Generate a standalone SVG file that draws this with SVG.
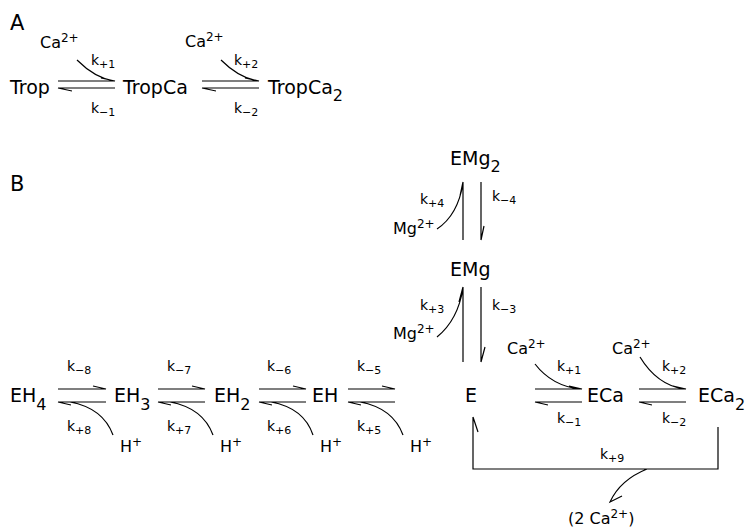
<svg xmlns="http://www.w3.org/2000/svg" width="747" height="529" viewBox="0 0 747 529">
<style>
text{font-family:"DejaVu Sans","Liberation Sans",sans-serif;fill:#000}
.m{font-size:19px}
.p{font-size:21px}
.k{font-size:14px}
.s{font-size:11px}
.c{font-size:16px}
.u{font-size:12px}
.sb{font-size:16px}
.ln{fill:none;stroke:#000;stroke-width:1.2}
</style>
<rect width="747" height="529" fill="#fff"/>
<text class="p" x="10" y="30">A</text>
<text class="p" x="10" y="191">B</text>
<g id="trop"><text class="m" x="10" y="94">Trop</text></g>
<g id="tropca"><text class="m" x="123" y="94">TropCa</text></g>
<g id="tropca2"><text class="m" x="268" y="94">TropCa<tspan class="sb" dy="7">2</tspan></text></g>
<g id="emg2"><text class="m" x="450" y="165">EMg<tspan class="sb" dy="7">2</tspan></text></g>
<g id="emg"><text class="m" x="450" y="276">EMg</text></g>
<g id="eh4"><text class="m" x="10" y="402">EH<tspan class="sb" dy="8">4</tspan></text></g>
<g id="eh3"><text class="m" x="114" y="402">EH<tspan class="sb" dy="8">3</tspan></text></g>
<g id="eh2"><text class="m" x="214" y="402">EH<tspan class="sb" dy="8">2</tspan></text></g>
<g id="eh"><text class="m" x="312" y="402">EH</text></g>
<g id="e"><text class="m" x="465" y="402">E</text></g>
<g id="eca"><text class="m" x="587" y="402">ECa</text></g>
<g id="eca2"><text class="m" x="698" y="402">ECa<tspan class="sb" dy="8">2</tspan></text></g>
<g id="labels">
<text class="c" x="40" y="48">Ca<tspan class="u" dy="-6">2+</tspan></text>
<text class="c" x="185" y="47">Ca<tspan class="u" dy="-6">2+</tspan></text>
<text class="k" x="91" y="65">k<tspan class="s" dy="3">+1</tspan></text>
<text class="k" x="91" y="113">k<tspan class="s" dy="3">−1</tspan></text>
<text class="k" x="234" y="65">k<tspan class="s" dy="3">+2</tspan></text>
<text class="k" x="234" y="113">k<tspan class="s" dy="3">−2</tspan></text>
<text class="k" x="420" y="204">k<tspan class="s" dy="3">+4</tspan></text>
<text class="k" x="492" y="201">k<tspan class="s" dy="3">−4</tspan></text>
<text class="c" x="393" y="234">Mg<tspan class="u" dy="-6">2+</tspan></text>
<text class="k" x="420" y="310">k<tspan class="s" dy="3">+3</tspan></text>
<text class="k" x="492" y="310">k<tspan class="s" dy="3">−3</tspan></text>
<text class="c" x="393" y="339">Mg<tspan class="u" dy="-6">2+</tspan></text>
<text class="k" x="67" y="371">k<tspan class="s" dy="3">−8</tspan></text>
<text class="k" x="167" y="371">k<tspan class="s" dy="3">−7</tspan></text>
<text class="k" x="267" y="371">k<tspan class="s" dy="3">−6</tspan></text>
<text class="k" x="357" y="371">k<tspan class="s" dy="3">−5</tspan></text>
<text class="k" x="67" y="431">k<tspan class="s" dy="3">+8</tspan></text>
<text class="k" x="167" y="431">k<tspan class="s" dy="3">+7</tspan></text>
<text class="k" x="267" y="431">k<tspan class="s" dy="3">+6</tspan></text>
<text class="k" x="357" y="431">k<tspan class="s" dy="3">+5</tspan></text>
<text class="c" x="120" y="452">H<tspan class="u" dy="-6">+</tspan></text>
<text class="c" x="220" y="452">H<tspan class="u" dy="-6">+</tspan></text>
<text class="c" x="320" y="452">H<tspan class="u" dy="-6">+</tspan></text>
<text class="c" x="410" y="452">H<tspan class="u" dy="-6">+</tspan></text>
<text class="c" x="507" y="354">Ca<tspan class="u" dy="-6">2+</tspan></text>
<text class="c" x="612" y="354">Ca<tspan class="u" dy="-6">2+</tspan></text>
<text class="k" x="557" y="371">k<tspan class="s" dy="3">+1</tspan></text>
<text class="k" x="662" y="371">k<tspan class="s" dy="3">+2</tspan></text>
<text class="k" x="557" y="423">k<tspan class="s" dy="3">−1</tspan></text>
<text class="k" x="662" y="423">k<tspan class="s" dy="3">−2</tspan></text>
<text class="k" x="600" y="459">k<tspan class="s" dy="3">+9</tspan></text>
<text class="c" x="568" y="524">(2 Ca<tspan class="u" dy="-6">2+</tspan><tspan dy="6">)</tspan></text>
</g>
<g id="connectors" class="ln">
<path d="M58 81H115L101 78M58 88H115M58 88L72 91M77 60Q95 78 114 81"/>
<path d="M202 81H259L245 78M202 88H259M202 88L216 91M221 60Q239 78 258 81"/>
<path d="M463 182V240M463 182L460 196M481 182V240M481 240L484 226M437 229Q458 215 463 183"/>
<path d="M463 287V362M463 287L459 302M481 287V362M481 362L485 347M437 337Q458 320 463 288"/>
<path d="M58 389H106L93 386M58 402H106M58 402L71 405M70 402Q103 408 113 435"/>
<path d="M158 389H205L192 386M158 402H205M158 402L171 405M170 402Q203 408 213 435"/>
<path d="M259 389H306L293 386M259 402H306M259 402L272 405M271 402Q304 408 313 435"/>
<path d="M348 389H395L382 386M348 402H395M348 402L361 405M360 402Q393 408 403 435"/>
<path d="M535 389H582L569 386M535 402H582M535 402L548 405M535 364Q552 386 580 389"/>
<path d="M639 389H686L673 386M639 402H686M639 402L652 405M640 357Q657 385 684 389"/>
<path d="M473 417V469H718V427M473 417L478 432M647 469Q620 480 610 502L622 496"/>
</g>
</svg>
